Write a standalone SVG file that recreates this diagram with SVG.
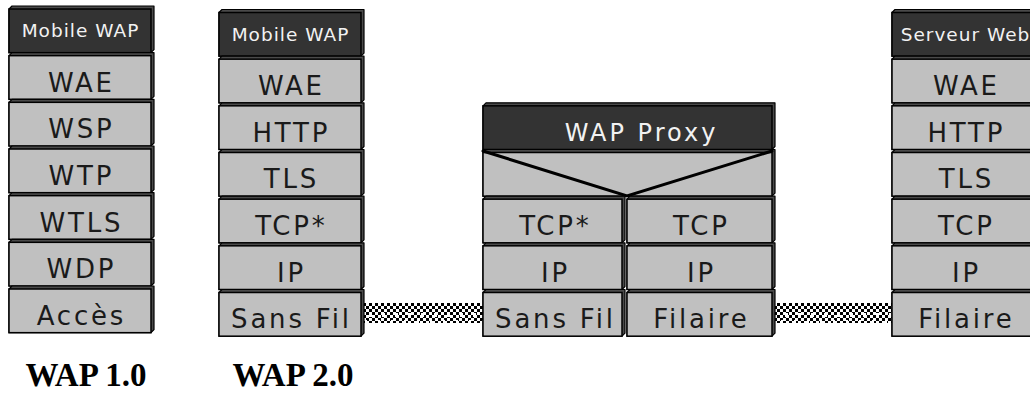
<svg xmlns="http://www.w3.org/2000/svg" xmlns:xlink="http://www.w3.org/1999/xlink" width="1030" height="394" viewBox="0 0 1030 394">
<style>
.edge{fill:#4a4a4a;stroke:#000;stroke-width:1.2;stroke-linejoin:round}
.face{fill:#c0c0c0;stroke:#000;stroke-width:1.5}
.faced{fill:#333;stroke:#000;stroke-width:1.5}
.lt{font-family:"DejaVu Sans","Liberation Sans",sans-serif;font-size:26px;letter-spacing:2.8px;fill:#1a1a1a;text-anchor:middle}
.hd{font-family:"DejaVu Sans","Liberation Sans",sans-serif;font-size:18.5px;letter-spacing:1px;fill:#f2f2f2;text-anchor:middle}
.ttl{font-family:"DejaVu Sans","Liberation Sans",sans-serif;font-size:24px;letter-spacing:3px;fill:#f2f2f2;text-anchor:middle}
.ver{font-family:"Liberation Serif","Times New Roman",serif;font-size:33px;font-weight:bold;fill:#000;text-anchor:middle}
.vline{fill:none;stroke:#000;stroke-width:3;stroke-linecap:round}
</style>
<defs>
<pattern id="chk" width="6" height="6" patternUnits="userSpaceOnUse">
<rect width="6" height="6" fill="#fff"/>
<rect width="3" height="3" fill="#000"/>
<rect x="3" y="3" width="3" height="3" fill="#000"/>
</pattern>
<pattern id="spots" x="0" y="303" width="13" height="20" patternUnits="userSpaceOnUse">
<rect x="5" y="10" width="3" height="4" fill="#fff"/>
<rect x="1" y="17" width="2" height="3" fill="#fff"/>
</pattern>
<g id="b142"><polygon class="edge" points="0,3 3,0 145,0 145,43.67 142,46.67 0,46.67"/><rect class="face" x="0" y="3" width="142" height="43.67"/></g>
<g id="d142"><polygon class="edge" points="0,3 3,0 145,0 145,43.67 142,46.67 0,46.67"/><rect class="faced" x="0" y="3" width="142" height="43.67"/></g>
<g id="b289"><polygon class="edge" points="0,3 3,0 292,0 292,43.67 289,46.67 0,46.67"/><rect class="face" x="0" y="3" width="289" height="43.67"/></g>
<g id="d289"><polygon class="edge" points="0,3 3,0 292,0 292,43.67 289,46.67 0,46.67"/><rect class="faced" x="0" y="3" width="289" height="43.67"/></g>
<g id="bL"><polygon class="edge" points="0,3 3,0 142,0 142,43.67 139,46.67 0,46.67"/><rect class="face" x="0" y="3" width="139" height="43.67"/></g>
<g id="bR"><polygon class="edge" points="0,3 3,0 148,0 148,43.67 145,46.67 0,46.67"/><rect class="face" x="0" y="3" width="145" height="43.67"/></g>
</defs>

<g id="connectors">
<rect x="364" y="303" width="119" height="20" fill="url(#chk)"/>
<rect x="364" y="303" width="119" height="20" fill="url(#spots)"/>
<rect x="775" y="303" width="117" height="20" fill="url(#chk)"/>
<rect x="775" y="303" width="117" height="20" fill="url(#spots)"/>
</g>

<g id="stack-wap1">
<g id="w1-mobile"><use href="#d142" x="9" y="6"/><text class="hd" x="80.5" y="37">Mobile WAP</text></g>
<g id="w1-wae"><use href="#b142" x="9" y="52.67"/><text class="lt" x="81.4" y="91.5">WAE</text></g>
<g id="w1-wsp"><use href="#b142" x="9" y="99.33"/><text class="lt" x="81.4" y="138.2">WSP</text></g>
<g id="w1-wtp"><use href="#b142" x="9" y="146"/><text class="lt" x="81.4" y="184.9">WTP</text></g>
<g id="w1-wtls"><use href="#b142" x="9" y="192.67"/><text class="lt" x="81.4" y="231.5">WTLS</text></g>
<g id="w1-wdp"><use href="#b142" x="9" y="239.33"/><text class="lt" x="81.4" y="278.2">WDP</text></g>
<g id="w1-acces"><use href="#b142" x="9" y="286"/><text class="lt" x="81.4" y="324.9">Accès</text></g>
</g>

<g id="stack-wap2">
<g id="w2-mobile"><use href="#d142" x="219" y="9.5"/><text class="hd" x="290.5" y="40.5">Mobile WAP</text></g>
<g id="w2-wae"><use href="#b142" x="219" y="56.17"/><text class="lt" x="291.4" y="95">WAE</text></g>
<g id="w2-http"><use href="#b142" x="219" y="102.83"/><text class="lt" x="291.4" y="141.7">HTTP</text></g>
<g id="w2-tls"><use href="#b142" x="219" y="149.5"/><text class="lt" x="291.4" y="188.4">TLS</text></g>
<g id="w2-tcp"><use href="#b142" x="219" y="196.17"/><text class="lt" x="291.4" y="235">TCP*</text></g>
<g id="w2-ip"><use href="#b142" x="219" y="242.83"/><text class="lt" x="291.4" y="281.7">IP</text></g>
<g id="w2-sansfil"><use href="#b142" x="219" y="289.5"/><text class="lt" x="291.4" y="328.4">Sans Fil</text></g>
</g>

<g id="proxy">
<g id="px-title"><use href="#d289" x="483" y="102.83"/><text class="ttl" x="641.5" y="140.5">WAP Proxy</text></g>
<g id="px-v"><use href="#b289" x="483" y="149.5"/><path class="vline" d="M483,151 L627,196 L772,151"/></g>
<g id="px-tcpstar"><use href="#bL" x="483" y="196.17"/><text class="lt" x="555.4" y="235">TCP*</text></g>
<g id="px-tcp"><use href="#bR" x="627" y="196.17"/><text class="lt" x="701.4" y="235">TCP</text></g>
<g id="px-ip1"><use href="#bL" x="483" y="242.83"/><text class="lt" x="555.4" y="281.7">IP</text></g>
<g id="px-ip2"><use href="#bR" x="627" y="242.83"/><text class="lt" x="701.4" y="281.7">IP</text></g>
<g id="px-sansfil"><use href="#bL" x="483" y="289.5"/><text class="lt" x="555.4" y="328.4">Sans Fil</text></g>
<g id="px-filaire"><use href="#bR" x="627" y="289.5"/><text class="lt" x="701.4" y="328.4">Filaire</text></g>
</g>

<g id="stack-server">
<g id="sv-title"><use href="#d142" x="892" y="9.5"/><text class="hd" x="965.5" y="40.5">Serveur Web</text></g>
<g id="sv-wae"><use href="#b142" x="892" y="56.17"/><text class="lt" x="966.4" y="95">WAE</text></g>
<g id="sv-http"><use href="#b142" x="892" y="102.83"/><text class="lt" x="966.4" y="141.7">HTTP</text></g>
<g id="sv-tls"><use href="#b142" x="892" y="149.5"/><text class="lt" x="966.4" y="188.4">TLS</text></g>
<g id="sv-tcp"><use href="#b142" x="892" y="196.17"/><text class="lt" x="966.4" y="235">TCP</text></g>
<g id="sv-ip"><use href="#b142" x="892" y="242.83"/><text class="lt" x="966.4" y="281.7">IP</text></g>
<g id="sv-filaire"><use href="#b142" x="892" y="289.5"/><text class="lt" x="966.4" y="328.4">Filaire</text></g>
</g>

<g id="labels">
<text class="ver" x="86" y="386">WAP 1.0</text>
<text class="ver" x="293" y="386">WAP 2.0</text>
</g>
</svg>
